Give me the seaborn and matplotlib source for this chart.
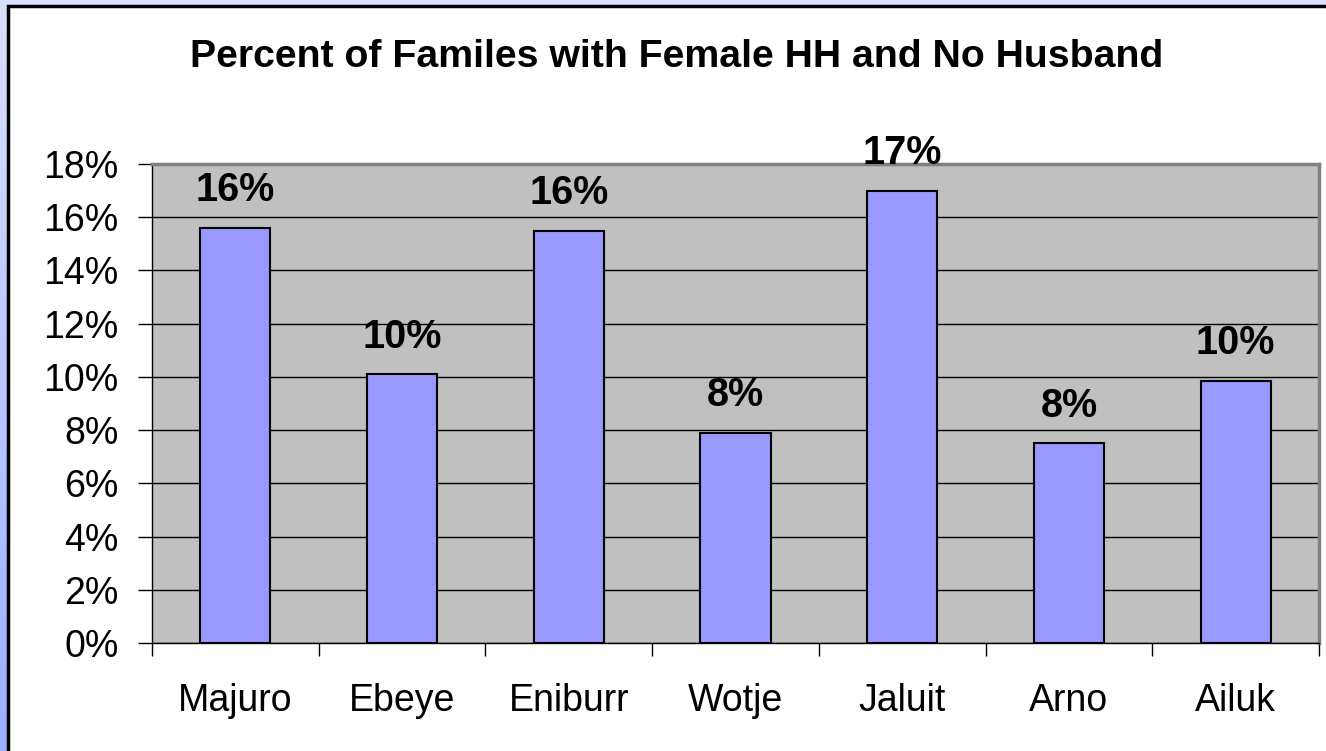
import numpy as np
import pandas as pd
import matplotlib.pyplot as plt
import seaborn as sns
from matplotlib.ticker import PercentFormatter, FixedLocator

# Data
islands = ['Majuro', 'Ebeye', 'Eniburr', 'Wotje', 'Jaluit', 'Arno', 'Ailuk']
pct = [15.6, 10.1, 15.5, 7.9, 17.0, 7.5, 9.85]
df = pd.DataFrame({'island': islands, 'pct': pct})

sns.set_style('white')
plt.rcParams['font.family'] = ['Liberation Sans', 'DejaVu Sans']
plt.rcParams['text.color'] = 'black'
plt.rcParams['xtick.color'] = 'black'
plt.rcParams['ytick.color'] = 'black'

fig = plt.figure(figsize=(13.26, 7.51), dpi=100)

# blue gradient background with white panel on top
bg = fig.add_axes([0, 0, 1, 1], zorder=-10)
yy = np.linspace(0, 1, 200)[:, None]
xx = np.linspace(0, 1, 200)[None, :]
r = 218 - 65 * yy + 0 * xx
g = 224 - 50 * yy + 0 * xx
b = 255 + 0 * yy + 0 * xx
img = np.dstack([r, g, b]) / 255.0
bg.imshow(img, aspect='auto', extent=[0, 1, 0, 1], origin='upper')
bg.add_patch(plt.Rectangle((8 / 1326, -0.01), 1.0, 1 - 6 / 751 + 0.01,
                           facecolor='white', edgecolor='black', lw=2.5))
bg.set_xlim(0, 1)
bg.set_ylim(0, 1)
bg.axis('off')

ax = fig.add_axes([152 / 1326, 1 - 643 / 751, (1319 - 152) / 1326, (643 - 164) / 751])
ax.set_facecolor('#C0C0C0')

sns.barplot(data=df, x='island', y='pct', color='#9999FF', width=0.42,
            edgecolor='black', linewidth=1.5, saturation=1, ax=ax, zorder=3)

ax.set_xlim(-0.5, len(islands) - 0.5)
ax.set_ylim(0, 18)
ax.yaxis.set_major_locator(FixedLocator(np.arange(0, 19, 2)))
ax.yaxis.set_major_formatter(PercentFormatter(decimals=0))
ax.grid(axis='y', color='black', lw=1, zorder=0)
ax.set_axisbelow(True)

ax.set_xlabel('')
ax.set_ylabel('')
ax.tick_params(axis='y', labelsize=27, length=10, width=1, direction='out', pad=14, left=True,
               labelcolor='black')
ax.tick_params(axis='x', which='major', labelsize=27, length=0, pad=29, labelcolor='black')
ax.set_xticks(np.arange(-0.5, len(islands)), minor=True)
ax.tick_params(axis='x', which='minor', length=9, width=1, direction='out', bottom=True)

for s in ['left', 'bottom']:
    ax.spines[s].set_color('black')
    ax.spines[s].set_linewidth(1)
for s in ['top', 'right']:
    ax.spines[s].set_color('#808080')
    ax.spines[s].set_linewidth(2.5)

for i, v in enumerate(pct):
    ax.annotate(f'{round(v):.0f}%', (i, v), xytext=(0, 19), textcoords='offset points',
                ha='center', va='baseline', fontsize=28.5, fontweight='bold',
                color='black', zorder=5)

fig.text(677 / 1326, 1 - 57 / 751, 'Percent of Familes with Female HH and No Husband',
         ha='center', va='center', fontsize=28.3, fontweight='bold', color='black')

fig.savefig('out.png', dpi=100)
